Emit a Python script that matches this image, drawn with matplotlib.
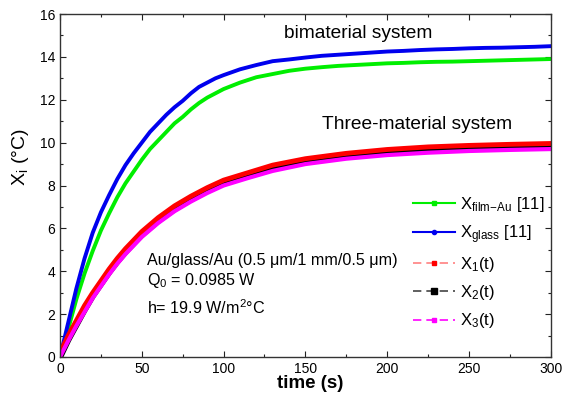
import matplotlib
matplotlib.use("Agg")
import matplotlib.pyplot as plt
from matplotlib.lines import Line2D
from matplotlib.ticker import MultipleLocator

plt.rcParams['font.family'] = ['Liberation Sans', 'DejaVu Sans']
plt.rcParams['mathtext.fontset'] = 'custom'
plt.rcParams['mathtext.rm'] = 'Liberation Sans'
plt.rcParams['mathtext.it'] = 'Liberation Sans:italic'

# measured bimaterial curves [11]
t_meas = [0, 5, 10, 15, 20, 25, 30, 35, 40, 45, 50, 55, 60, 65, 70, 75, 80, 85,
          90, 95, 100, 110, 120, 130, 140, 150, 160, 170, 180, 190, 200, 210,
          220, 230, 240, 250, 260, 270, 280, 290, 300]
x_glass = [0, 1.6, 3.2, 4.6, 5.8, 6.75, 7.55, 8.3, 8.95, 9.5, 10.0, 10.5, 10.9,
           11.3, 11.65, 11.95, 12.3, 12.6, 12.8, 13.0, 13.15, 13.42, 13.62,
           13.8, 13.88, 13.97, 14.05, 14.1, 14.15, 14.2, 14.25, 14.28, 14.32,
           14.35, 14.37, 14.4, 14.42, 14.43, 14.45, 14.47, 14.5]
x_film = [0, 1.3, 2.7, 3.9, 4.95, 5.9, 6.7, 7.45, 8.1, 8.65, 9.2, 9.7, 10.1,
          10.5, 10.9, 11.2, 11.55, 11.85, 12.1, 12.3, 12.5, 12.8, 13.05, 13.2,
          13.35, 13.45, 13.52, 13.58, 13.62, 13.66, 13.7, 13.72, 13.75, 13.77,
          13.78, 13.8, 13.82, 13.84, 13.86, 13.88, 13.9]

# three-material model
t_mod = [0, 5, 10, 15, 20, 25, 30, 35, 40, 45, 50, 60, 70, 80, 90, 100, 115,
         130, 150, 175, 200, 225, 250, 275, 300]
x1 = [0.2, 1.0, 1.7, 2.4, 3.0, 3.55, 4.1, 4.6, 5.05, 5.45, 5.85, 6.5, 7.05,
      7.5, 7.9, 8.25, 8.6, 8.95, 9.25, 9.5, 9.68, 9.8, 9.87, 9.92, 9.96]
x2 = [0, 0.8, 1.5, 2.2, 2.85, 3.4, 3.95, 4.45, 4.9, 5.3, 5.7, 6.35, 6.9, 7.35,
      7.75, 8.1, 8.45, 8.8, 9.1, 9.36, 9.54, 9.66, 9.74, 9.79, 9.82]
x3 = [0, 0.75, 1.45, 2.1, 2.75, 3.3, 3.85, 4.35, 4.8, 5.2, 5.6, 6.25, 6.8,
      7.25, 7.65, 8.0, 8.35, 8.68, 9.0, 9.25, 9.42, 9.53, 9.61, 9.66, 9.7]

fig = plt.figure(figsize=(5.62, 3.96), dpi=100)
ax = fig.add_axes([0.1068, 0.0985, 0.8732, 0.8661])

ax.plot(t_meas, x_film, color='#00ee00', lw=2.8)
ax.plot(t_meas, x_glass, color='#0000ee', lw=2.8)
ax.plot(t_mod, x2, color='black', lw=4.5)
ax.plot(t_mod, x1, color='red', lw=3.5)
ax.plot(t_mod, x3, color='magenta', lw=3)

ax.set_xlim(0, 300)
ax.set_ylim(0, 16)
ax.xaxis.set_major_locator(MultipleLocator(50))
ax.xaxis.set_minor_locator(MultipleLocator(25))
ax.yaxis.set_major_locator(MultipleLocator(2))
ax.yaxis.set_minor_locator(MultipleLocator(1))
ax.tick_params(which='both', direction='in', top=True, right=True,
               labelsize=10, width=0.8, colors='#222222', labelcolor='black')
ax.tick_params(which='major', length=4)
ax.tick_params(which='minor', length=2.5)
for s in ax.spines.values():
    s.set_color('#333333')
    s.set_linewidth(1.0)

ax.set_xlabel('time (s)', fontsize=13.5, fontweight='bold')
ax.xaxis.set_label_coords(0.51, -0.053, transform=ax.transAxes)
ax.xaxis.label.set_va('top')
ax.set_ylabel(r'X$_{\rm i}$ ($\degree$C)', fontsize=14)
ax.yaxis.set_label_coords(-0.081, 0.583, transform=ax.transAxes)
ax.yaxis.label.set_va('center')

ax.text(182, 15.1, 'bimaterial system', fontsize=13.8, ha='center', va='center')
ax.text(218, 10.84, 'Three-material system', fontsize=13.8, ha='center',
        va='center')
ax.text(53, 4.49, 'Au/glass/Au (0.5 \u03bcm/1 mm/0.5 \u03bcm)', fontsize=11.6,
        va='center')
ax.text(53, 3.55, r'Q$_0$ = 0.0985 W', fontsize=11.6, va='center')
ax.text(53, 2.29, r'h= 19.9 W/m$^2$$\degree$C', fontsize=11.6, va='center')

handles = [
    Line2D([], [], color='#00ee00', lw=1.5, marker='s', ms=3),
    Line2D([], [], color='#0000ee', lw=1.5, marker='o', ms=3),
    Line2D([], [], color='#ff8080', lw=1.2, ls=(0, (5, 3)), marker='s', ms=3,
           mfc='red', mec='red'),
    Line2D([], [], color='#444444', lw=1.2, ls=(0, (5, 3)), marker='s', ms=4,
           mfc='black', mec='black'),
    Line2D([], [], color='magenta', lw=1.2, ls=(0, (5, 3)), marker='s', ms=3),
]
labels = [r'X$_{\rm film\!-\!Au}$ [11]', r'X$_{\rm glass}$ [11]',
          r'X$_1$(t)', r'X$_2$(t)', r'X$_3$(t)']
ax.legend(handles, labels, loc='lower right', bbox_to_anchor=(1.0, 0.058),
          frameon=False, fontsize=12, numpoints=1, handlelength=2.5,
          handletextpad=0.3, labelspacing=0.55, borderaxespad=0.0)

fig.savefig('out.png', dpi=100)
